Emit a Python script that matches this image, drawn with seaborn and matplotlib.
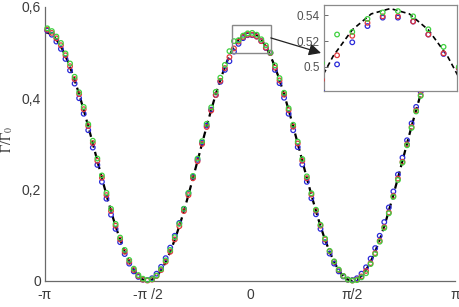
import numpy as np
import pandas as pd
import matplotlib
matplotlib.use("Agg")
import matplotlib.pyplot as plt
from matplotlib.patches import Rectangle
import seaborn as sns

# ---------------- data ----------------
# theory curve, sampled every 5 degrees from -180 to 180
curve_deg = list(range(-180, 181, 5))
curve_val = [0.5450, 0.5409, 0.5286, 0.5085, 0.4812, 0.4477, 0.4088, 0.3657, 0.3198,
             0.2725, 0.2252, 0.1793, 0.1363, 0.0973, 0.0638, 0.0365, 0.0164, 0.0041,
             0.0000,
             0.0041, 0.0164, 0.0365, 0.0638, 0.0973, 0.1363, 0.1793, 0.2252, 0.2725,
             0.3198, 0.3657, 0.4088, 0.4477, 0.4812, 0.5085, 0.5286, 0.5409,
             0.5450,
             0.5409, 0.5286, 0.5085, 0.4812, 0.4477, 0.4088, 0.3657, 0.3198, 0.2725,
             0.2252, 0.1793, 0.1363, 0.0973, 0.0638, 0.0365, 0.0164, 0.0041,
             0.0000,
             0.0041, 0.0164, 0.0365, 0.0638, 0.0973, 0.1363, 0.1793, 0.2252, 0.2725,
             0.3198, 0.3657, 0.4088, 0.4477, 0.4812, 0.5085, 0.5286, 0.5409, 0.5450]

# measured points, every 4 degrees from -178 to 178
meas_deg = list(range(-178, 179, 4))

blue_val = [0.548, 0.539, 0.524, 0.508, 0.486, 0.461, 0.432, 0.400, 0.366, 0.330,
            0.292, 0.254, 0.217, 0.180, 0.145, 0.114, 0.085, 0.059, 0.038, 0.021,
            0.009, 0.003, 0.002, 0.006, 0.016, 0.031, 0.050, 0.073, 0.099, 0.127,
            0.158, 0.192, 0.228, 0.265, 0.303, 0.340, 0.375, 0.407, 0.436, 0.462,
            0.481, 0.502, 0.519, 0.5315, 0.538,
            0.538, 0.535, 0.525, 0.510, 0.499, 0.462, 0.433, 0.401, 0.366, 0.330,
            0.293, 0.255, 0.217, 0.181, 0.146, 0.114, 0.085, 0.060, 0.038, 0.021,
            0.010, 0.003, 0.002, 0.006, 0.016, 0.030, 0.049, 0.072, 0.099, 0.129,
            0.161, 0.196, 0.233, 0.270, 0.308, 0.345, 0.381, 0.414, 0.445, 0.473,
            0.497, 0.517, 0.532, 0.543, 0.548]

red_val = [0.550, 0.543, 0.531, 0.516, 0.494, 0.470, 0.442, 0.409, 0.376, 0.339,
           0.302, 0.263, 0.226, 0.188, 0.153, 0.121, 0.091, 0.064, 0.042, 0.024,
           0.011, 0.003, 0.001, 0.003, 0.011, 0.024, 0.042, 0.064, 0.091, 0.120,
           0.153, 0.188, 0.225, 0.262, 0.300, 0.337, 0.373, 0.407, 0.438, 0.466,
           0.490, 0.509, 0.524, 0.534, 0.539,
           0.539, 0.535, 0.525, 0.5105, 0.499, 0.467, 0.439, 0.408, 0.374, 0.338,
           0.301, 0.263, 0.225, 0.189, 0.154, 0.121, 0.091, 0.065, 0.042, 0.024,
           0.011, 0.003, 0.001, 0.003, 0.010, 0.022, 0.039, 0.061, 0.088, 0.118,
           0.150, 0.186, 0.224, 0.261, 0.299, 0.337, 0.373, 0.407, 0.438, 0.467,
           0.491, 0.511, 0.526, 0.537, 0.543]

green_val = [0.553, 0.547, 0.535, 0.521, 0.498, 0.476, 0.447, 0.413, 0.381, 0.343,
             0.307, 0.268, 0.231, 0.193, 0.158, 0.125, 0.095, 0.068, 0.046, 0.027,
             0.013, 0.005, 0.002, 0.004, 0.012, 0.026, 0.045, 0.068, 0.096, 0.125,
             0.158, 0.193, 0.230, 0.268, 0.306, 0.344, 0.380, 0.414, 0.445, 0.473,
             0.503, 0.525, 0.527, 0.537, 0.542,
             0.543, 0.539, 0.529, 0.5155, 0.500, 0.472, 0.444, 0.412, 0.378, 0.342,
             0.305, 0.267, 0.229, 0.192, 0.156, 0.123, 0.093, 0.066, 0.043, 0.025,
             0.011, 0.003, 0.001, 0.002, 0.008, 0.017, 0.037, 0.059, 0.086, 0.116,
             0.148, 0.184, 0.221, 0.259, 0.297, 0.335, 0.371, 0.405, 0.437, 0.466,
             0.491, 0.512, 0.528, 0.540, 0.546]

series_names = ["blue", "red", "green"]
series_colors = {"blue": "#2a2ad8", "red": "#e0393c", "green": "#3fd13f"}

x_ticks_labels = ["-\u03c0", "-\u03c0 /2", "0", "\u03c0/2", "\u03c0"]
y_tick_values = [0, 0.2, 0.4, 0.6]
y_tick_labels = ["0", "0,2", "0,4", "0,6"]
inset_y_ticks = [0.5, 0.52, 0.54]
inset_y_labels = ["0.5", "0.52", "0.54"]

# ---------------- build tables ----------------
curve_df = pd.DataFrame({"theta": np.deg2rad(curve_deg), "val": curve_val})
parts = []
for name, vals in zip(series_names, [blue_val, red_val, green_val]):
    parts.append(pd.DataFrame({"theta": np.deg2rad(meas_deg), "val": vals, "series": name}))
pts_df = pd.concat(parts, ignore_index=True)

# ---------------- style ----------------
sns.set_theme(style="white")
plt.rcParams["font.family"] = ["Liberation Sans", "DejaVu Sans"]
plt.rcParams["mathtext.fontset"] = "stix"

GRAY = "#6a6a6a"
TXT = "#3c3c3c"

fig = plt.figure(figsize=(4.6, 3.07), dpi=100)
ax = fig.add_axes([0.0978, 0.0847, 0.891, 0.893])


def draw(axis, lw, ms, clip):
    sns.lineplot(data=curve_df, x="theta", y="val", color="black", lw=lw,
                 linestyle=(0, (3, 2)), ax=axis, sort=False, zorder=2)
    sns.scatterplot(data=pts_df, x="theta", y="val", hue="series",
                    palette=series_colors, s=ms, marker="o", linewidth=0.9,
                    ax=axis, legend=False, zorder=3, clip_on=clip)
    for coll in axis.collections:
        fc = coll.get_facecolors()
        if len(fc):
            coll.set_edgecolors(fc)
            coll.set_facecolors("none")


draw(ax, 1.6, 11, False)

ax.set_xlim(-np.pi, np.pi)
ax.set_ylim(0, 0.6)
ax.set_xticks([-np.pi, -np.pi / 2, 0, np.pi / 2, np.pi])
ax.set_xticklabels(x_ticks_labels)
ax.set_yticks(y_tick_values)
ax.set_yticklabels(y_tick_labels)
ax.set_xlabel("")
ax.set_ylabel(r"$\Gamma/\Gamma_0$", fontsize=10, color=TXT)
ax.yaxis.set_label_coords(-0.072, 0.515)
for side in ["top", "right"]:
    ax.spines[side].set_visible(False)
for side in ["left", "bottom"]:
    ax.spines[side].set_color(GRAY)
    ax.spines[side].set_linewidth(0.9)
ax.tick_params(direction="in", length=4, width=0.8, color=GRAY,
               labelcolor=TXT, labelsize=10)
ax.tick_params(axis="x", pad=5)
ax.tick_params(axis="y", pad=3)

# zoom rectangle and arrow
ax.add_patch(Rectangle((-0.28, 0.499), 0.60, 0.062, fill=False,
                       edgecolor="#888888", lw=1.0, zorder=4))
ax.annotate("", xy=(1.09, 0.499), xytext=(0.32, 0.532),
            xycoords="data", textcoords="data",
            arrowprops=dict(arrowstyle="-|>,head_length=0.6,head_width=0.3",
                            color="#222222", lw=0.9, shrinkA=0, shrinkB=0),
            annotation_clip=False, zorder=5)

# inset
axin = fig.add_axes([0.704, 0.7036, 0.289, 0.280])
axin.set_facecolor("white")
draw(axin, 1.2, 11, True)
axin.set_xlim(-0.305, 0.305)
axin.set_ylim(0.4815, 0.5477)
axin.set_xticks([])
axin.set_yticks(inset_y_ticks)
axin.set_yticklabels(inset_y_labels)
axin.set_xlabel("")
axin.set_ylabel("")
for side in ["top", "right", "left", "bottom"]:
    axin.spines[side].set_visible(True)
    axin.spines[side].set_color("#8a8a8a")
    axin.spines[side].set_linewidth(0.9)
axin.tick_params(axis="y", direction="in", length=3, width=0.7, color=GRAY,
                 labelcolor="#505050", labelsize=8.5, pad=3, left=True)

fig.savefig("out.png", dpi=100)
